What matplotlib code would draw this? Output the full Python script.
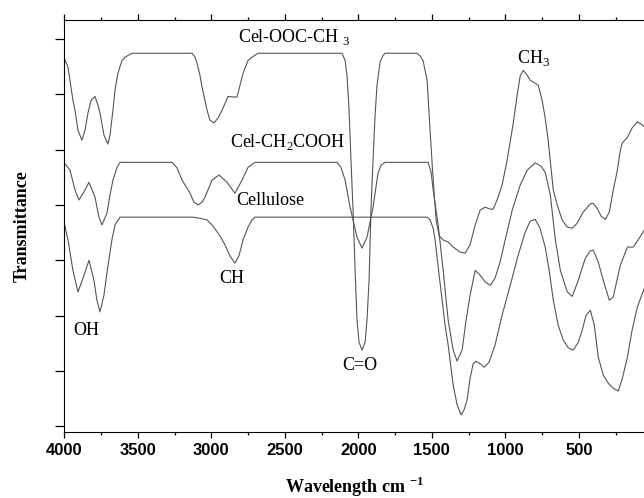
import numpy as np
import matplotlib.pyplot as plt
from matplotlib.ticker import MultipleLocator

plt.rcParams['mathtext.fontset'] = 'custom'
plt.rcParams['mathtext.rm'] = 'Liberation Serif'
plt.rcParams['mathtext.bf'] = 'Liberation Serif:bold'

# wavenumber (cm-1) and transmittance (a.u.)
acet_w = [4000, 3975, 3941, 3927, 3907, 3880, 3859, 3839, 3818, 3791, 3771, 3757, 3730, 3703,
          3689, 3669, 3655, 3635, 3607, 3587, 3539, 3131, 3111, 3097, 3077, 3063, 3029, 3009,
          2982, 2954, 2927, 2886, 2852, 2825, 2805, 2784, 2750, 2723, 2682, 2111, 2090, 2077,
          2063, 2050, 2036, 2022, 2009, 1995, 1975, 1954, 1941, 1927, 1914, 1900, 1886, 1873,
          1852, 1832, 1818, 1600, 1580, 1560, 1532, 1512, 1491, 1471, 1450, 1423, 1389, 1355,
          1308, 1273, 1240, 1205, 1171, 1137, 1103, 1083, 1056, 1022, 988, 946, 920, 899, 878,
          851, 831, 797, 776, 750, 729, 709, 674, 647, 614, 579, 545, 512, 471, 422, 402, 376,
          349, 320, 293, 266, 238, 218, 204, 170, 138, 102, 77, 54]
acet_t = [66.5, 64.9, 58.9, 57.1, 53.5, 51.7, 53.5, 56.6, 58.9, 59.6, 58.0, 56.6, 52.6, 51.0,
          52.6, 57.1, 60.7, 63.8, 66.1, 66.7, 67.4, 67.4, 66.7, 65.6, 63.4, 61.3, 57.1, 55.3,
          54.8, 55.7, 57.1, 59.6, 59.5, 59.5, 61.6, 63.8, 66.1, 66.7, 67.4, 67.4, 66.1, 63.4,
          57.1, 48.1, 39.1, 28.2, 19.2, 15.2, 13.8, 15.2, 19.2, 26.4, 39.1, 48.1, 56.2, 61.6,
          65.8, 67.0, 67.4, 67.4, 66.9, 66.1, 62.5, 53.5, 44.5, 37.3, 34.4, 33.7, 33.3, 32.4,
          31.5, 31.3, 32.8, 36.4, 39.1, 39.6, 39.25, 39.25, 40.9, 43.6, 48.1, 54.8, 59.8, 63.3, 64.3,
          63.4, 62.5, 62.0, 61.6, 58.9, 55.7, 51.7, 42.7, 40.0, 37.3, 36.0, 35.8, 36.7, 38.7, 40.2,
          40.3, 39.4, 38.0, 37.4, 38.7, 42.7, 46.3, 49.9, 51.2, 52.2, 53.9, 55.0, 54.6, 54.1]

cmc_w = [4000, 3961, 3927, 3900, 3859, 3832, 3791, 3764, 3744, 3710, 3689, 3669, 3641, 3621,
         3267, 3233, 3199, 3144, 3118, 3090, 3063, 3043, 2995, 2948, 2893, 2839, 2791, 2750,
         2703, 2145, 2118, 2090, 2056, 2009, 1975, 1941, 1900, 1866, 1845, 1818, 1525, 1505,
         1491, 1457, 1423, 1389, 1355, 1328, 1294, 1267, 1240, 1205, 1171, 1137, 1103, 1070,
         1036, 1001, 953, 899, 851, 797, 757, 729, 694, 660, 626, 579, 545, 504, 456, 422, 402,
         368, 334, 293, 266, 218, 170, 129, 97, 54]
cmc_t = [47.6, 46.3, 42.7, 40.9, 42.7, 44.1, 41.4, 37.8, 36.4, 38.5, 41.8, 44.5, 46.8, 47.7,
         47.7, 46.7, 44.5, 42.1, 40.5, 40.0, 40.5, 41.4, 44.5, 45.4, 44.1, 42.1, 44.5, 46.8,
         47.7, 47.7, 46.8, 44.5, 39.6, 34.2, 32.2, 34.2, 39.6, 45.75, 47.2, 47.7, 47.7, 45.9,
         42.7, 36.4, 28.2, 19.2, 13.8, 11.8, 13.8, 19.2, 23.7, 28.2, 27.3, 26.1, 25.5, 26.8,
         29.7, 33.7, 39.1, 43.6, 46.3, 47.6, 47.0, 45.9, 41.8, 33.7, 28.2, 24.3, 23.5, 26.4,
         30.4, 31.7, 31.85, 29.7, 26.4, 22.8, 23.4, 29.1, 32.4, 32.4, 33.7, 35.5]

cell_w = [4000, 3975, 3941, 3907, 3866, 3832, 3798, 3778, 3757, 3730, 3710, 3676, 3655, 3621,
          3124, 3077, 3029, 2988, 2941, 2907, 2873, 2839, 2812, 2784, 2750, 2723, 2703, 1532,
          1512, 1491, 1478, 1457, 1430, 1410, 1389, 1355, 1328, 1301, 1281, 1260, 1240, 1219,
          1199, 1171, 1144, 1111, 1070, 1022, 967, 913, 865, 831, 797, 764, 729, 702, 674, 641,
          606, 572, 538, 504, 477, 451, 422, 395, 368, 334, 300, 266, 232, 204, 170, 138, 102, 54]
cell_t = [36.7, 33.7, 28.2, 24.3, 27.3, 30.0, 26.4, 22.8, 20.7, 23.7, 27.7, 33.7, 36.4, 37.8,
          37.8, 37.6, 37.3, 36.2, 34.4, 32.8, 30.8, 29.5, 30.8, 33.7, 36.0, 37.3, 37.8, 37.8,
          37.3, 35.8, 33.7, 28.8, 22.8, 18.3, 14.7, 7.5, 3.9, 2.1, 3.0, 4.8, 8.7, 11.3,
          11.8, 11.3, 10.7, 11.6, 14.7, 20.1, 25.5, 30.9, 35.1, 37.1, 37.4, 35.8, 32.4, 28.2,
          22.8, 18.3, 15.6, 14.2, 13.8, 15.2, 17.4, 20.1, 21.0, 18.3, 12.5, 9.3, 7.8, 6.9, 6.4,
          8.7, 12.5, 17.4, 21.6, 25.0]

fig = plt.figure(figsize=(6.44, 4.98), dpi=100)
ax = fig.add_axes([0.0998, 0.1325, 0.9002, 0.8273])

for w, t in [(acet_w, acet_t), (cmc_w, cmc_t), (cell_w, cell_t)]:
    ax.plot(w, t, color='#555555', lw=0.8)

ax.set_xlim(4000, 57)
ax.set_ylim(-1, 73.4)
ax.spines['right'].set_visible(False)

ax.xaxis.set_major_locator(MultipleLocator(500))
ax.xaxis.set_minor_locator(MultipleLocator(250))
ax.yaxis.set_major_locator(MultipleLocator(10))
ax.tick_params(axis='x', which='major', direction='out', length=4.5, top=True, width=0.9)
ax.tick_params(axis='x', which='minor', direction='out', length=2.5, top=True, width=0.9)
ax.tick_params(axis='y', which='major', direction='out', length=6.5, labelleft=False, width=0.9)
for lab in ax.get_xticklabels():
    lab.set_fontfamily('Liberation Sans')
    lab.set_fontweight('bold')
    lab.set_fontsize(12)

serif = 'Liberation Serif'
ax.set_xlabel('Wavelength cm $^{\\mathbf{-1}}$', family=serif, fontsize=13, fontweight='bold', labelpad=12)
ax.set_ylabel('Transmittance', family=serif, fontsize=13, fontweight='bold', labelpad=18)

txt = dict(family=serif, fontsize=13, ha='left', va='baseline', color='black')
ax.text(2818, 69.4, 'Cel-OOC-CH$_{\\ 3}$', **txt)
ax.text(2873, 50.4, 'Cel-CH$_2$COOH', **txt)
ax.text(2832, 40.0, 'Cellulose', **txt)
ax.text(2948, 25.9, 'CH', **txt)
ax.text(3941, 16.5, 'OH', **txt)
ax.text(2111, 10.2, 'C=O', **txt)
ax.text(920, 65.6, 'CH$_3$', **txt)

fig.savefig('out.png', dpi=100)
